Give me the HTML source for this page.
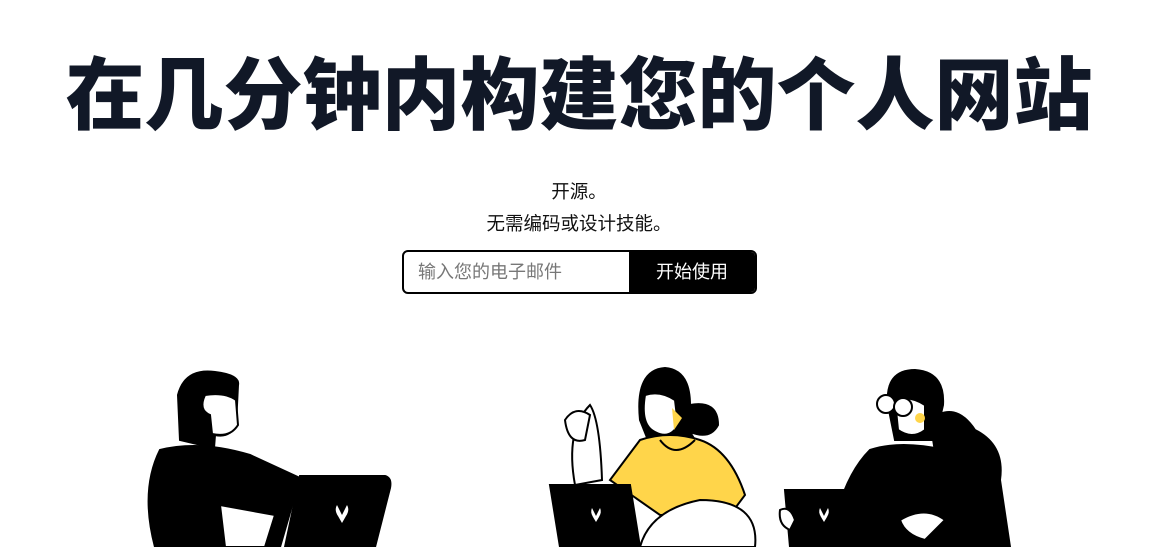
<!DOCTYPE html>
<html><head><meta charset="utf-8"><style>
body{margin:0;width:1158px;height:547px;overflow:hidden;background:#fff;font-family:"Liberation Sans","Noto Sans CJK SC",sans-serif;position:relative}
h1{position:absolute;left:0;width:1158px;top:41px;margin:0;text-align:center;font-size:79px;font-weight:900;color:#111827;line-height:110px;letter-spacing:0}
.p{position:absolute;left:0;width:1158px;text-align:center;font-size:18.5px;color:#111;line-height:24px}
.form{position:absolute;left:402px;top:250px;width:351px;height:40px;border:2px solid #000;border-radius:6px;overflow:hidden;display:flex}
.in{flex:1;font-size:18px;color:#777;line-height:40px;padding-left:14px}
.btn{width:126px;background:#000;color:#fff;font-size:18px;line-height:40px;text-align:center}
svg{position:absolute;left:0;top:0}
</style></head><body>
<h1>在几分钟内构建您的个人网站</h1>
<div class="p" style="top:180px">开源。</div>
<div class="p" style="top:212px">无需编码或设计技能。</div>
<div class="form">
<div class="in">输入您的电子邮件</div>
<div class="btn">开始使用</div>
</div>
<svg width="1158" height="547">
<g stroke="#000" stroke-width="2">
<path d="M180 440 L178 395 Q185 368 215 372 Q240 375 238 385 L236 425 Q230 438 215 435 L214 448 Z" fill="#000"/>
<path d="M205 395 Q225 392 236 400 L238 425 Q230 438 212 434 L210 415 Q198 410 205 395Z" fill="#fff"/>
<path d="M160 450 Q200 440 250 455 L300 478 L280 547 L155 547 Q140 490 160 450Z" fill="#000"/>
<path d="M220 505 L275 515 L265 547 L225 547Z" fill="#fff"/>
<path d="M300 476 L385 476 Q392 478 390 488 L375 547 L285 547Z" fill="#000"/>
<path d="M337 505 l5 10 5-10 q3 5-1 11 l-4 7-4-7q-4-6-1-11z" fill="#fff" stroke="none"/>
</g>
<g stroke="#000" stroke-width="2">
<path d="M640 420 Q635 370 665 368 Q690 370 690 405 Q718 400 718 425 Q710 440 690 432 L695 440 L650 445Z" fill="#000"/>
<path d="M645 395 Q660 390 675 400 L678 425 Q670 440 655 432 Q640 425 645 395Z" fill="#fff"/>
<path d="M672 408 L682 418 L674 430Z" fill="#ffd54a" stroke="none"/>
<path d="M640 440 Q670 430 700 440 Q730 450 745 495 L730 515 L660 515 L610 480 Z" fill="#ffd54a"/>
<path d="M660 440 Q675 460 695 440" fill="none"/>
<path d="M590 405 Q600 420 602 480 L575 485 Q565 430 590 405Z" fill="#fff"/>
<path d="M565 420 Q575 405 590 415 L585 440 Q568 445 565 420Z" fill="#fff"/>
<path d="M700 500 Q760 500 755 547 L640 547 Q650 510 700 500Z" fill="#fff"/>
<path d="M550 485 L630 485 L640 547 L560 547Z" fill="#000"/>
<path d="M592 508 l4 8 4-8 q2 4-1 9 l-3 5-3-5q-3-5-1-9z" fill="#fff" stroke="none"/>
</g>
<g stroke="#000" stroke-width="2">
<path d="M888 405 Q885 370 915 370 Q945 372 943 405 L935 440 L895 440Z" fill="#000"/>
<path d="M895 400 Q910 395 925 405 L925 430 Q912 440 898 430Z" fill="#fff"/>
<circle cx="886" cy="404" r="9" fill="#fff"/><circle cx="903" cy="407" r="9" fill="#fff"/>
<circle cx="920" cy="418" r="5" fill="#ffd54a" stroke="none"/>
<path d="M930 420 Q955 400 975 430 Q1005 445 1000 480 L1010 547 L950 547Z" fill="#000"/>
<path d="M870 450 Q900 440 945 450 L990 500 L995 547 L830 547 Q840 480 870 450Z" fill="#000"/>
<path d="M785 490 L870 490 L875 547 L790 547Z" fill="#000"/>
<path d="M820 508 l4 8 4-8 q2 4-1 9 l-3 5-3-5q-3-5-1-9z" fill="#fff" stroke="none"/>
<path d="M900 520 Q925 505 945 520 L925 540 Q905 535 900 520Z" fill="#fff"/>
<path d="M780 510 Q790 505 795 520 L790 530 Q778 525 780 510Z" fill="#fff"/>
</g>
</svg>
</body></html>
